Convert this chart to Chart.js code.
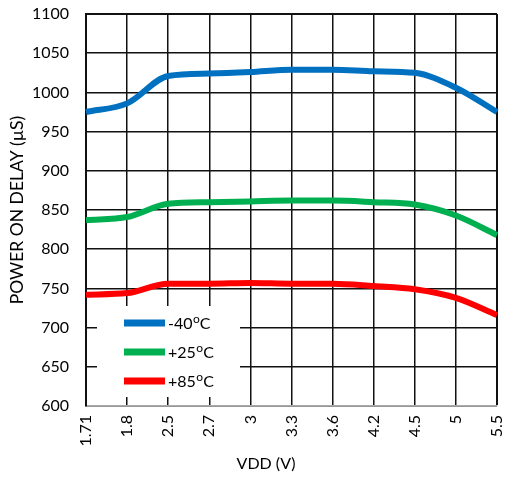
<!DOCTYPE html>
<html>
<head>
<meta charset="utf-8">
<script src="https://cdn.jsdelivr.net/npm/chart.js@4.4.1/dist/chart.umd.min.js"></script>
<style>
  body { margin: 0; background: #fff; }
  #wrap { width: 505px; height: 479px; position: relative; }
</style>
</head>
<body>
<div id="wrap"><canvas id="delay_chart"></canvas></div>
<script>
var vddLabels = ["1.71", "1.8", "2.5", "2.7", "3", "3.3", "3.6", "4.2", "4.5", "5", "5.5"];
var seriesNames = ["-40°C", "+25°C", "+85°C"];
var dataMinus40 = [975, 986, 1021, 1024, 1026, 1029, 1029, 1027, 1025, 1006, 975];
var dataPlus25 = [837, 841, 858, 860, 861, 862, 862, 860, 857, 843, 818];
var dataPlus85 = [742, 744, 756, 756, 757, 756, 756, 753, 749, 738, 716];
var yTicks = [600, 650, 700, 750, 800, 850, 900, 950, 1000, 1050, 1100];
var lineColors = ["#0070C0", "#00B050", "#FF0000"];

var fontFamily = "Lato, 'Open Sans', sans-serif";

// legend box inside the plot + x axis title
var boxLegend = {
    id: "boxLegend",
    afterDraw: function(chart) {
        var ctx = chart.ctx;
        var area = chart.chartArea;
        ctx.save();
        var bx = area.left + 11, by = area.bottom - 100;
        ctx.fillStyle = "#fff";
        ctx.fillRect(bx, by, 143, 91);
        chart.data.datasets.forEach(function(ds, i) {
            var y = by + 17 + i * 29;
            ctx.fillStyle = ds.borderColor;
            ctx.fillRect(bx + 27, y - 3.5, 41, 7);
            var parts = ds.label.split("°");
            ctx.fillStyle = "#000";
            ctx.textBaseline = "middle";
            ctx.textAlign = "left";
            ctx.font = "16px " + fontFamily;
            var tx = bx + 71;
            ctx.fillText(parts[0], tx, y + 1);
            tx += ctx.measureText(parts[0]).width;
            ctx.font = "12px " + fontFamily;
            ctx.fillText("o", tx + 0.5, y - 4);
            tx += ctx.measureText("o").width + 0.5;
            ctx.font = "16px " + fontFamily;
            ctx.fillText("C", tx, y + 1);
        });
        ctx.font = "16px " + fontFamily;
        ctx.textAlign = "center";
        ctx.textBaseline = "middle";
        ctx.fillStyle = "#000";
        ctx.fillText("VDD (V)", 266, 464);
        ctx.restore();
    }
};

new Chart("delay_chart", {
    type: "line",
    data: {
        labels: vddLabels,
        datasets: [{
                label: seriesNames[0],
                data: dataMinus40,
                borderColor: lineColors[0],
                backgroundColor: lineColors[0],
            },
            {
                label: seriesNames[1],
                data: dataPlus25,
                borderColor: lineColors[1],
                backgroundColor: lineColors[1],
            },
            {
                label: seriesNames[2],
                data: dataPlus85,
                borderColor: lineColors[2],
                backgroundColor: lineColors[2],
            },
        ]
    },
    options: {
        responsive: true,
        maintainAspectRatio: false,
        animation: false,
        layout: {
            padding: { top: 14, right: 8, left: 0, bottom: 0 }
        },
        elements: {
            line: { borderWidth: 6, cubicInterpolationMode: "monotone", fill: false },
            point: { radius: 0, hoverRadius: 0 }
        },
        plugins: {
            legend: { display: false },
            tooltip: { enabled: false }
        },
        scales: {
            x: {
                afterFit: function(scale) {
                    scale.height = 73;
                    scale.paddingLeft = 0;
                    scale.paddingRight = 0;
                },
                grid: {
                    color: "#111",
                    lineWidth: function(c) { return c.index === vddLabels.length - 1 ? 2 : 1.5; },
                    drawTicks: false
                },
                border: { display: true, color: "#aaa", width: 1.5 },
                ticks: {
                    minRotation: 90,
                    maxRotation: 90,
                    padding: 9,
                    color: "#000",
                    font: { family: fontFamily, size: 16 }
                }
            },
            y: {
                min: yTicks[0],
                max: yTicks[yTicks.length - 1],
                afterFit: function(scale) {
                    scale.width = 86;
                    scale.paddingTop = 0;
                    scale.paddingBottom = 0;
                },
                afterBuildTicks: function(scale) {
                    scale.ticks = yTicks.map(function(v) { return { value: v }; });
                },
                grid: {
                    color: "#111",
                    lineWidth: function(c) { return c.index === yTicks.length - 1 ? 2 : 1.5; },
                    drawTicks: false
                },
                border: { display: true, color: "#111", width: 2 },
                ticks: {
                    padding: 17,
                    color: "#000",
                    font: { family: fontFamily, size: 16 },
                    callback: function(v) { return String(v); }
                },
                title: {
                    display: true,
                    text: "POWER ON DELAY (µS)",
                    color: "#000",
                    font: { family: fontFamily, size: 17.5 },
                    padding: { top: 7, bottom: 0 }
                }
            }
        }
    },
    plugins: [boxLegend]
});
</script>
</body>
</html>
